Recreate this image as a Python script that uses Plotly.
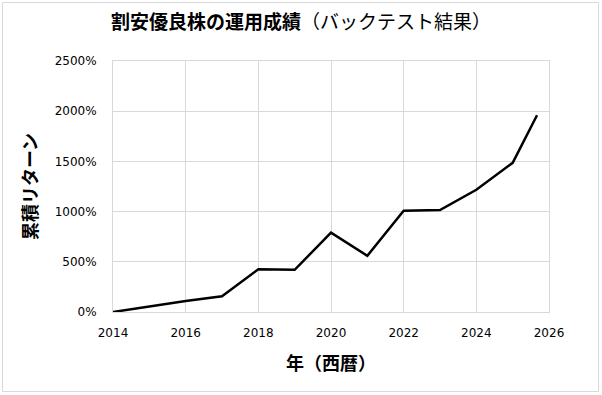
import plotly.graph_objects as go

years = [2014, 2015, 2016, 2017, 2018, 2019, 2020, 2021, 2022, 2023, 2024, 2025, 2025.67]
returns = [0, 58, 110, 156, 425, 420, 790, 560, 1008, 1015, 1217, 1486, 1960]
x_ticks = [2014, 2016, 2018, 2020, 2022, 2024, 2026]
y_ticks = [0, 500, 1000, 1500, 2000, 2500]
y_tick_labels = [f"{v}%" for v in y_ticks]

W, H = 602, 395
L, R, T, B = 113, 53, 61, 83
pw, ph = W - L - R, H - T - B

def px_to_paper_x(px):
    return (px - L) / pw

def px_to_paper_y(py):
    return (H - B - py) / ph

cjk = "Noto Sans CJK JP"

fig = go.Figure()
fig.add_trace(go.Scatter(x=years, y=returns, mode="lines",
                         line=dict(color="black", width=2.5), hoverinfo="skip"))

fig.update_layout(
    width=W, height=H,
    margin=dict(l=L, r=R, t=T, b=B),
    paper_bgcolor="white", plot_bgcolor="white",
    showlegend=False,
    title=dict(text="<b>割安優良株の運用成績</b>（バックテスト結果）",
               font=dict(family=cjk, size=19, color="black"),
               x=0.5, xanchor="center", y=1 - 22 / H, yanchor="middle"),
    font=dict(family="DejaVu Sans", size=12, color="black"),
)
fig.update_xaxes(range=[2014, 2026], tickvals=x_ticks, ticktext=[str(v) for v in x_ticks],
                 showgrid=True, gridcolor="#d9d9d9", gridwidth=1,
                 showline=True, linecolor="#d9d9d9", mirror=True,
                 zeroline=False, ticks="outside", ticklen=10, tickcolor="rgba(0,0,0,0)",
                 tickfont=dict(family="DejaVu Sans", size=12, color="black"),
                 title=dict(text="<b>年（西暦）</b>", font=dict(family=cjk, size=18, color="black"),
                            standoff=17))
fig.update_yaxes(range=[0, 2500], tickvals=y_ticks, ticktext=y_tick_labels,
                 showgrid=True, gridcolor="#d9d9d9", gridwidth=1,
                 showline=True, linecolor="#d9d9d9", mirror=True,
                 zeroline=False, ticks="outside", ticklen=13, tickcolor="rgba(0,0,0,0)",
                 tickfont=dict(family="DejaVu Sans", size=12, color="black"),
                 title=dict(text="<b>累積リターン</b>", font=dict(family=cjk, size=18, color="black"),
                            standoff=12))

fig.add_shape(type="rect", xref="paper", yref="paper",
              x0=px_to_paper_x(2.5), x1=px_to_paper_x(598.5),
              y0=px_to_paper_y(391.5), y1=px_to_paper_y(2.5),
              line=dict(color="#d9d9d9", width=1), fillcolor="rgba(0,0,0,0)", layer="below")

fig.write_html("out.html", config={"displayModeBar": False},
               post_script="document.body.style.margin='0';document.body.style.overflow='hidden';")
